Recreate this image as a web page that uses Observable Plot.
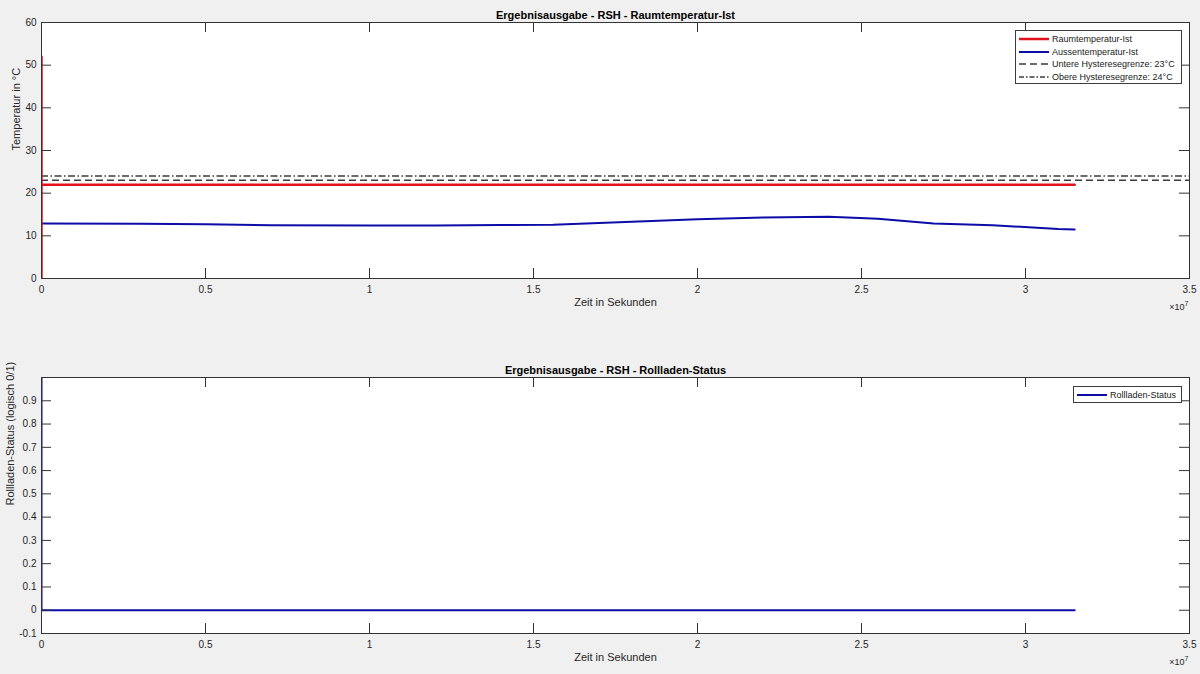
<!DOCTYPE html>
<html><head><meta charset="utf-8">
<script src="https://cdn.jsdelivr.net/npm/d3@7"></script>
<script src="https://cdn.jsdelivr.net/npm/@observablehq/plot@0.6"></script>
<style>
body{margin:0;background:#f0f0f0;font-family:"Liberation Sans",Arial,sans-serif;}
#wrap{position:relative;width:1200px;height:674px;overflow:hidden;}
.plot{position:absolute;left:0;}
.legend{position:absolute;background:#fff;border:1px solid #3c3c3c;font-size:9px;color:#1a1a1a;box-sizing:border-box;padding:2px 0 0 3px;}
.item{display:flex;align-items:center;height:12.6px;white-space:nowrap;}
.item svg{margin-right:3px;flex:none;}
</style></head><body><div id="wrap"></div>
<script>
// ---- data ----
const timeRaum = [0, 0, 0, 3.15e7];
const tempRaum = [0, 52, 22, 22];
const timeAussen = [0, 0.3e7, 0.5e7, 0.7e7, 1.0e7, 1.2e7, 1.4e7, 1.56e7, 1.8e7, 2.0e7, 2.2e7, 2.4e7, 2.55e7, 2.72e7, 2.9e7, 3.1e7, 3.15e7];
const tempAussen = [12.9, 12.85, 12.7, 12.5, 12.4, 12.4, 12.55, 12.6, 13.3, 13.9, 14.3, 14.5, 14.0, 12.9, 12.5, 11.6, 11.5];
const hystUnten = [23];
const hystOben = [24];
const timeStatus = [0, 0, 3.15e7];
const statusVals = [1, 0, 0];
const xTicks = [0, 0.5e7, 1e7, 1.5e7, 2e7, 2.5e7, 3e7, 3.5e7];
const yTicksTemp = [0, 10, 20, 30, 40, 50, 60];
const yTicksStatus = [-0.1, 0, 0.1, 0.2, 0.3, 0.4, 0.5, 0.6, 0.7, 0.8, 0.9];
const xLabels = ["0", "0.5", "1", "1.5", "2", "2.5", "3", "3.5"];

const W = 1200, H = 337;
const mL = 41, mR = 11;
const plotW = W - mL - mR;
const AX = "#333333", TXT = "#262626";
const RED = "#e3131b", BLUE = "#0c0ca8", GREY = "#3c3c3c";

function frameTicks(yt, plotH) {
  const s = {stroke: AX, strokeWidth: 1};
  return [
    Plot.tickX(xTicks, {x: d => d, insetTop: plotH - 10, ...s}),
    Plot.tickX(xTicks, {x: d => d, insetBottom: plotH - 10, ...s}),
    Plot.tickY(yt, {y: d => d, insetRight: plotW - 10, ...s}),
    Plot.tickY(yt, {y: d => d, insetLeft: plotW - 10, ...s})
  ];
}
function common(title, ylabel, yt, yfmt, plotH, ylabelDx) {
  return [
    Plot.axisX({ticks: xTicks, tickSize: 0, tickPadding: 7, label: null, tickFormat: d => xLabels[xTicks.indexOf(d)], fill: TXT, fontSize: 10}),
    Plot.axisY({ticks: yt, tickSize: 0, tickPadding: 5, label: null, tickFormat: yfmt, fill: TXT, fontSize: 10}),
    ...frameTicks(yt, plotH),
    Plot.frame({stroke: AX, strokeWidth: 1}),
    Plot.text([title], {frameAnchor: "top", dy: -11, text: d => d, fontWeight: "bold", fontSize: 11, fill: "#000"}),
    Plot.text(["Zeit in Sekunden"], {frameAnchor: "bottom", dy: 27, text: d => d, fontSize: 11, fill: TXT}),
    Plot.text([ylabel], {frameAnchor: "left", dx: ylabelDx, rotate: -90, text: d => d, fontSize: 11, fill: TXT}),
    Plot.text(["\u00d710"], {frameAnchor: "bottom-right", dx: -5, dy: 31, textAnchor: "end", text: d => d, fontSize: 9, fill: TXT}),
    Plot.text(["7"], {frameAnchor: "bottom-right", dx: -1, dy: 27, textAnchor: "end", text: d => d, fontSize: 7, fill: TXT})
  ];
}

const raum = timeRaum.map((t, i) => ({t, v: tempRaum[i]}));
const aussen = timeAussen.map((t, i) => ({t, v: tempAussen[i]}));
const stat = timeStatus.map((t, i) => ({t, v: statusVals[i]}));

const topPlot = Plot.plot({
  width: W, height: H, marginLeft: mL, marginRight: mR, marginTop: 22, marginBottom: 59,
  style: {background: "transparent", fontFamily: "'Liberation Sans', Arial, sans-serif"},
  x: {domain: [0, 3.5e7], label: null}, y: {domain: [0, 60], label: null},
  marks: [
    Plot.frame({fill: "white"}),
    Plot.ruleY(hystUnten, {y: d => d, stroke: GREY, strokeWidth: 1.5, strokeDasharray: "7,4"}),
    Plot.ruleY(hystOben, {y: d => d, stroke: GREY, strokeWidth: 1.5, strokeDasharray: "7,2.5,1.5,2.5"}),
    Plot.line(aussen, {x: "t", y: "v", stroke: BLUE, strokeWidth: 2, clip: true}),
    Plot.line(raum, {x: "t", y: "v", stroke: RED, strokeWidth: 2.5, clip: true}),
    ...common("Ergebnisausgabe - RSH - Raumtemperatur-Ist", "Temperatur in \u00b0C", yTicksTemp, d => String(d), 256, -25)
  ]
});
const bottomPlot = Plot.plot({
  width: W, height: H, marginLeft: mL, marginRight: mR, marginTop: 40, marginBottom: 41,
  style: {background: "transparent", fontFamily: "'Liberation Sans', Arial, sans-serif"},
  x: {domain: [0, 3.5e7], label: null}, y: {domain: [-0.1, 1], label: null},
  marks: [
    Plot.frame({fill: "white"}),
    Plot.line(stat, {x: "t", y: "v", stroke: BLUE, strokeWidth: 2, clip: true}),
    ...common("Ergebnisausgabe - RSH - Rollladen-Status", "Rollladen-Status (logisch 0/1)", yTicksStatus, d => String(d), 256, -31)
  ]
});

const wrap = document.getElementById("wrap");
topPlot.classList.add("plot"); topPlot.style.top = "0px";
bottomPlot.classList.add("plot"); bottomPlot.style.top = H + "px";
wrap.appendChild(topPlot); wrap.appendChild(bottomPlot);

function sample(color, dash, w) {
  return `<svg width="30" height="6"><line x1="0" x2="30" y1="3" y2="3" stroke="${color}" stroke-width="${w}" ${dash ? `stroke-dasharray="${dash}"` : ""}/></svg>`;
}
function legend(items, left, topPx, width, height) {
  const d = document.createElement("div");
  d.className = "legend";
  Object.assign(d.style, {left: left + "px", top: topPx + "px", width: width + "px", height: height + "px"});
  d.innerHTML = items.map(([label, c, dash, w]) => `<div class="item">${sample(c, dash, w)}<span>${label}</span></div>`).join("");
  wrap.appendChild(d);
}
legend([
  ["Raumtemperatur-Ist", RED, null, 2.5],
  ["Aussentemperatur-Ist", BLUE, null, 2],
  ["Untere Hysteresegrenze: 23\u00b0C", GREY, "7,4", 1.5],
  ["Obere Hysteresegrenze: 24\u00b0C", GREY, "5,2,1.5,2", 1.5]
], 1015, 30, 167, 54);
legend([["Rollladen-Status", BLUE, null, 2]], 1073, 386, 109, 17);
</script></body></html>
